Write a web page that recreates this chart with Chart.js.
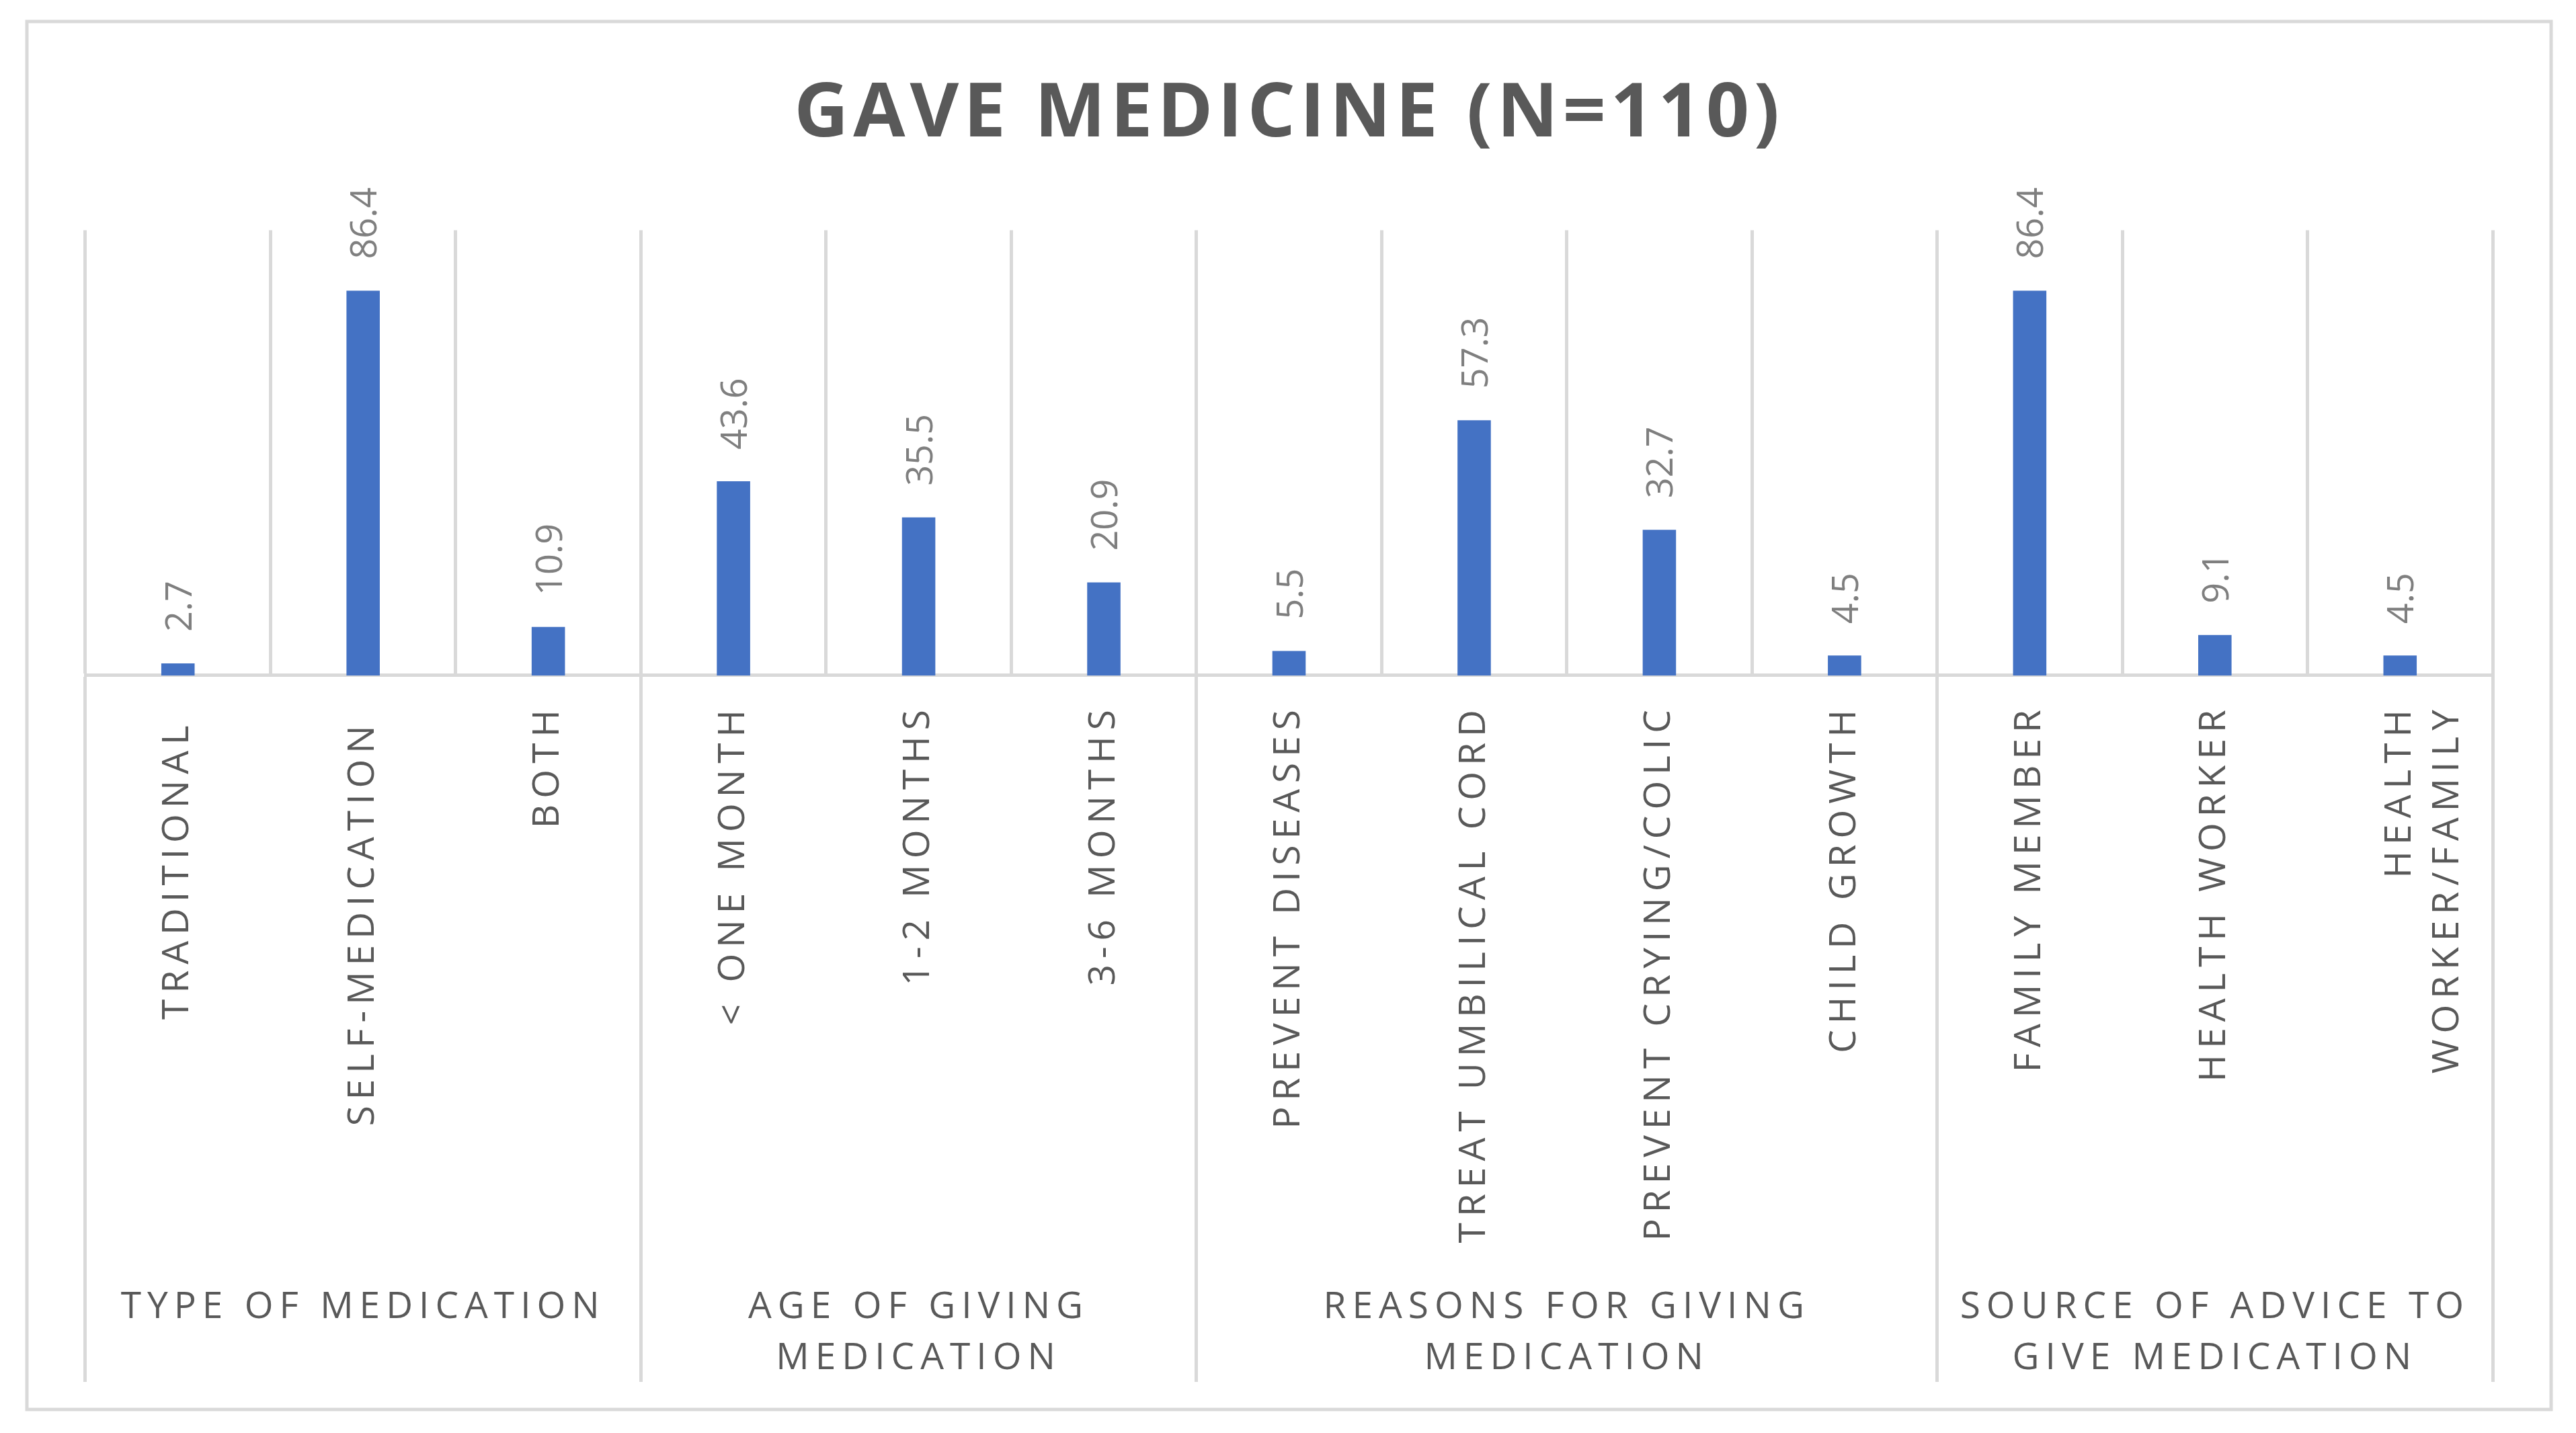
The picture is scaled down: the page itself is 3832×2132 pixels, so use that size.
<!DOCTYPE html>
<html>
<head>
<meta charset="utf-8">
<script src="https://cdn.jsdelivr.net/npm/chart.js@4/dist/chart.umd.min.js"></script>
<style>
html,body{margin:0;padding:0;background:#fff;}
#wrap{position:relative;width:3832px;height:2132px;}
</style>
</head>
<body>
<div id="wrap"><canvas id="c"></canvas></div>
<script>
// ---- data ----
const titleText = 'GAVE MEDICINE (N=110)';
const categories = [
  'TRADITIONAL ', 'SELF-MEDICATION ', 'BOTH',
  '< ONE MONTH', '1-2 MONTHS', '3-6 MONTHS',
  'PREVENT DISEASES', 'TREAT UMBILICAL CORD', 'PREVENT CRYING/COLIC', 'CHILD GROWTH',
  'FAMILY MEMBER', 'HEALTH WORKER', ['HEALTH', 'WORKER/FAMILY']
];
const values = [2.7, 86.4, 10.9, 43.6, 35.5, 20.9, 5.5, 57.3, 32.7, 4.5, 86.4, 9.1, 4.5];
const groupLabels = [
  ['TYPE OF MEDICATION'],
  ['AGE OF GIVING', 'MEDICATION'],
  ['REASONS FOR GIVING', 'MEDICATION'],
  ['SOURCE OF ADVICE TO', 'GIVE MEDICATION']
];
const groupSizes = [3, 3, 4, 3];
const yRange = [0, 100];

// ---- derived ----
const boundaries = [0];
groupSizes.forEach(s => boundaries.push(boundaries[boundaries.length - 1] + s));
const groupCenters = groupSizes.map((s, i) => boundaries[i] + s / 2);
const total = boundaries[boundaries.length - 1];

const GRID = '#d9d9d9';
const TEXT = '#595959';
const FONT = '"Open Sans", "DejaVu Sans", sans-serif';

const framePlugin = {
  id: 'frame',
  afterLayout(chart) {
    const tb = chart.titleBlock;
    if (tb && !tb._spaced) {
      const orig = tb.draw.bind(tb);
      tb.draw = function (a) {
        const c = chart.ctx;
        c.save();
        c.letterSpacing = '7px';
        orig(a);
        c.restore();
      };
      tb._spaced = true;
    }
  },
  beforeDraw(chart) {
    const ctx = chart.ctx;
    ctx.save();
    ctx.fillStyle = '#ffffff';
    ctx.fillRect(0, 0, chart.width, chart.height);
    ctx.strokeStyle = GRID;
    ctx.lineWidth = 5;
    ctx.strokeRect(40, 32, 3755, 2065);
    ctx.restore();
    ctx.letterSpacing = '9px';
  },
  afterDatasetsDraw(chart) {
    const ctx = chart.ctx;
    const meta = chart.getDatasetMeta(0);
    ctx.save();
    ctx.letterSpacing = '0px';
    ctx.font = '54px ' + FONT;
    ctx.fillStyle = '#7f7f7f';
    ctx.textAlign = 'left';
    ctx.textBaseline = 'alphabetic';
    meta.data.forEach((bar, i) => {
      ctx.save();
      ctx.translate(bar.x, bar.y - 47);
      ctx.rotate(-Math.PI / 2);
      ctx.fillText(values[i].toFixed(1), 0, 20);
      ctx.restore();
    });
    ctx.restore();
  },
  afterDraw(chart) {
    chart.ctx.letterSpacing = '0px';
  }
};

new Chart(document.getElementById('c'), {
  type: 'bar',
  data: {
    labels: categories,
    datasets: [{
      data: values,
      backgroundColor: '#4472C4',
      borderWidth: 0,
      barPercentage: 0.18,
      categoryPercentage: 1
    }]
  },
  options: {
    responsive: true,
    maintainAspectRatio: false,
    animation: false,
    devicePixelRatio: 1,
    layout: { padding: { left: 127, right: 124, top: 0, bottom: 76 } },
    plugins: {
      legend: { display: false },
      tooltip: { enabled: false },
      title: {
        display: true,
        text: titleText,
        color: TEXT,
        font: { family: FONT, size: 112, weight: 'bold', lineHeight: 1.2 },
        padding: { top: 104, bottom: 104 }
      }
    },
    scales: {
      y: { display: false, min: yRange[0], max: yRange[1] },
      x: {
        type: 'category',
        position: 'bottom',
        weight: 0,
        offset: true,
        grid: {
          display: true,
          offset: true,
          drawOnChartArea: true,
          color: GRID,
          lineWidth: 5,
          drawTicks: true,
          tickLength: 1051,
          tickWidth: 5,
          tickColor: (c) => (c.type !== 'tick' || boundaries.includes(c.index)) ? GRID : 'rgba(0,0,0,0)'
        },
        border: { display: true, color: GRID, width: 5 },
        ticks: {
          autoSkip: false,
          minRotation: 90,
          maxRotation: 90,
          padding: -1009,
          color: TEXT,
          font: { family: FONT, size: 55, lineHeight: 1.3 }
        },
        afterFit: (s) => { s.height = 860; }
      },
      x2: {
        type: 'linear',
        position: 'bottom',
        weight: 1,
        offset: false,
        min: 0,
        max: total,
        grid: { display: false, drawTicks: false, drawOnChartArea: false, offset: false },
        border: { display: false },
        afterBuildTicks: (s) => { s.ticks = groupCenters.map(v => ({ value: v })); },
        ticks: {
          autoSkip: false,
          minRotation: 0,
          maxRotation: 0,
          padding: 42,
          color: TEXT,
          font: { family: FONT, size: 55, lineHeight: 1.38 },
          callback: (v) => {
            const i = groupCenters.indexOf(v);
            return i >= 0 ? groupLabels[i] : '';
          }
        },
        afterFit: (s) => { s.height = 191; }
      }
    }
  },
  plugins: [framePlugin]
});
</script>
</body>
</html>
